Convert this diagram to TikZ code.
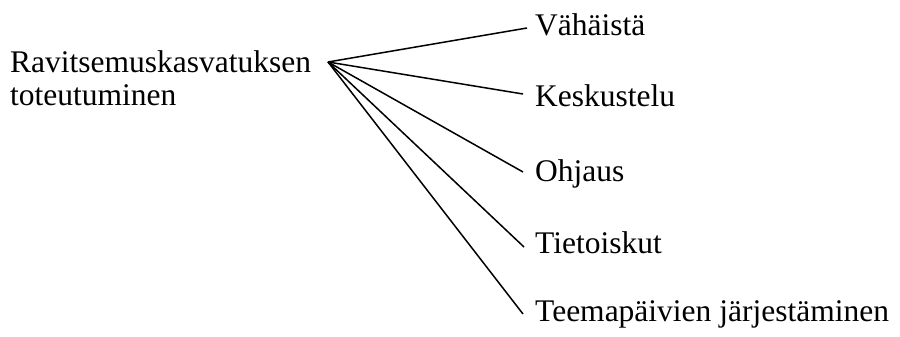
\documentclass[tikz,border=0pt]{standalone}
\usepackage{fontspec}
\setmainfont{Liberation Serif}
\begin{document}
\begin{tikzpicture}[x=1pt,y=1pt,
  lbl/.style={anchor=base west, inner sep=0pt, font=\fontsize{31.5}{33.5}\selectfont},
  conn/.style={line width=1.5pt}]
\useasboundingbox (0,0) rectangle (900,337);
\node[lbl, align=left, anchor=north west] (root) at (10,337-50) {Ravitsemuskasvatuksen\\toteutuminen};
\coordinate (hub) at (328,337-62);
\node[lbl] (v) at (535,337-36) {Vähäistä};
\node[lbl] (k) at (535,337-107) {Keskustelu};
\node[lbl] (o) at (535,337-182) {Ohjaus};
\node[lbl] (t) at (535,337-254) {Tietoiskut};
\node[lbl] (te) at (535,337-322) {Teemapäivien järjestäminen};
\draw[conn] (hub) -- ([xshift=-8pt,yshift=8pt]v.base west);
\draw[conn] (hub) -- ([xshift=-12pt,yshift=13pt]k.base west);
\draw[conn] (hub) -- ([xshift=-12pt,yshift=10pt]o.base west);
\draw[conn] (hub) -- ([xshift=-11pt,yshift=7pt]t.base west);
\draw[conn] (hub) -- ([xshift=-12pt,yshift=8pt]te.base west);
\end{tikzpicture}
\end{document}
